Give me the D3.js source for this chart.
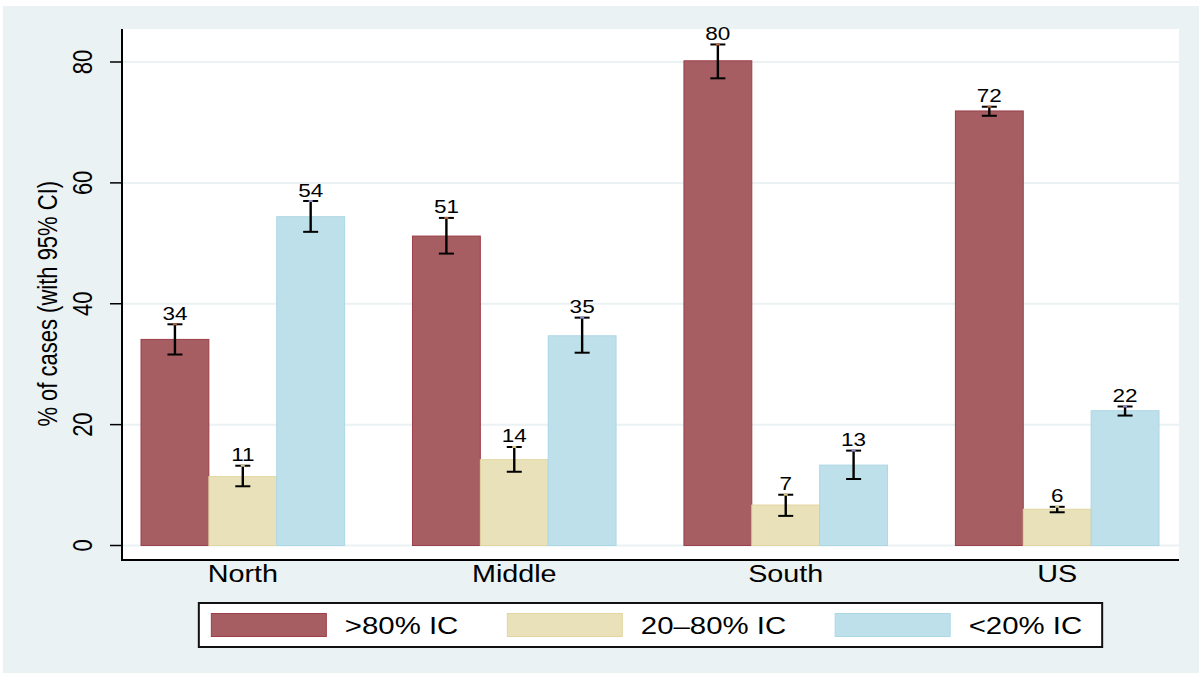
<!DOCTYPE html>
<html>
<head>
<meta charset="utf-8">
<script src="https://cdn.jsdelivr.net/npm/d3@7"></script>
<style>
  body { margin: 0; background: #ffffff; }
  text { font-family: "Liberation Sans", Arial, sans-serif; fill: #000; }
</style>
</head>
<body>
<div class="chart"></div>
<script>
//Data
const categories = ["North", "Middle", "South", "US"];
const seriesNames = [">80% IC", "20–80% IC", "<20% IC"];
const seriesColors = ["#a65e62", "#e9e1b9", "#bee0ea"];
const seriesStrokes = ["#9c3f49", "#e2d5a0", "#acd7e5"];
const capMarks = ["#b8643c", "#d9c98a", "#8f8fd0"];

const highMean = [34.1, 51.2, 80.2, 71.9];
const highLo = [31.6, 48.3, 77.3, 71.1];
const highHi = [36.6, 54.2, 82.9, 72.6];

const midMean = [11.4, 14.2, 6.7, 6.0];
const midLo = [9.8, 12.2, 4.9, 5.5];
const midHi = [13.2, 16.3, 8.4, 6.4];

const lowMean = [54.4, 34.7, 13.3, 22.3];
const lowLo = [51.9, 31.9, 11.0, 21.5];
const lowHi = [57.0, 37.7, 15.7, 23.0];

const yTicks = [0, 20, 40, 60, 80];

//Build rows
const means = [highMean, midMean, lowMean];
const los = [highLo, midLo, lowLo];
const his = [highHi, midHi, lowHi];
const rows = [];
categories.forEach((c, i) => {
    seriesNames.forEach((s, j) => {
        rows.push({ cat: c, series: s, idx: j, mean: means[j][i], lo: los[j][i], hi: his[j][i] });
    });
});

const width = 1199, height = 673;
const sx = 1.25; //picture is stretched sideways, text too
const plot = { left: 122, right: 1179, top: 29, bottom: 560 };

const svg = d3.select(".chart").append("svg")
    .attr("width", width)
    .attr("height", height);

//Outer background and plot region
svg.append("rect").attr("x", 3).attr("y", 6).attr("width", width - 3).attr("height", height - 6)
    .attr("fill", "#eaf2f3");
svg.append("rect").attr("x", plot.left).attr("y", plot.top)
    .attr("width", plot.right - plot.left).attr("height", plot.bottom - plot.top)
    .attr("fill", "#ffffff");

//Scales
const y = d3.scaleLinear().domain([0, 80]).range([545.5, 62]);
const x = d3.scaleBand().domain(categories).range([141, 1159]).paddingInner(0.25).paddingOuter(0);
const xs = d3.scaleBand().domain(seriesNames).range([0, x.bandwidth()]);

//Gridlines
svg.append("g").selectAll("line").data(yTicks).join("line")
    .attr("x1", plot.left).attr("x2", plot.right)
    .attr("y1", d => y(d)).attr("y2", d => y(d))
    .attr("stroke", "#eaf2f3").attr("stroke-width", 2);

//Bars
svg.append("g").selectAll("rect").data(rows).join("rect")
    .attr("x", d => x(d.cat) + xs(d.series))
    .attr("y", d => y(d.mean))
    .attr("width", xs.bandwidth())
    .attr("height", d => y(0) - y(d.mean))
    .attr("fill", d => seriesColors[d.idx])
    .attr("stroke", d => seriesStrokes[d.idx])
    .attr("stroke-width", 1);

//Error bars
const err = svg.append("g").selectAll("g").data(rows).join("g")
    .attr("transform", d => `translate(${x(d.cat) + xs(d.series) + xs.bandwidth() / 2},0)`);
err.append("line")
    .attr("y1", d => y(d.lo)).attr("y2", d => y(d.hi))
    .attr("stroke", "#000").attr("stroke-width", 2.4);
err.append("line")
    .attr("x1", -7.5).attr("x2", 7.5)
    .attr("y1", d => y(d.lo)).attr("y2", d => y(d.lo))
    .attr("stroke", "#000").attr("stroke-width", 2);
err.append("line")
    .attr("x1", -7.5).attr("x2", 7.5)
    .attr("y1", d => y(d.hi)).attr("y2", d => y(d.hi))
    .attr("stroke", "#000").attr("stroke-width", 2);
err.append("line")
    .attr("x1", -2).attr("x2", 2)
    .attr("y1", d => y(d.hi)).attr("y2", d => y(d.hi))
    .attr("stroke", d => capMarks[d.idx]).attr("stroke-width", 2);

//Value labels
err.append("text")
    .attr("transform", d => `translate(0,${y(d.hi) - 4.5}) scale(${sx},1)`)
    .attr("text-anchor", "middle")
    .style("font-size", "18px")
    .text(d => Math.round(d.mean));

//Axes lines
svg.append("line").attr("x1", plot.left).attr("x2", plot.left)
    .attr("y1", plot.top).attr("y2", plot.bottom + 1)
    .attr("stroke", "#000").attr("stroke-width", 2);
svg.append("line").attr("x1", plot.left - 1).attr("x2", plot.right)
    .attr("y1", plot.bottom).attr("y2", plot.bottom)
    .attr("stroke", "#000").attr("stroke-width", 2);

//Y ticks
const yt = svg.append("g").selectAll("g").data(yTicks).join("g");
yt.append("line")
    .attr("x1", 110).attr("x2", plot.left)
    .attr("y1", d => y(d)).attr("y2", d => y(d))
    .attr("stroke", "#000").attr("stroke-width", 1.5);
yt.append("text")
    .attr("transform", d => `translate(92,${y(d)}) scale(${sx},1) rotate(-90)`)
    .attr("text-anchor", "middle")
    .style("font-size", "22px")
    .text(d => d);

//Y title
svg.append("text")
    .attr("transform", `translate(57,${(y(0) + y(80)) / 2}) scale(${sx},1) rotate(-90)`)
    .attr("text-anchor", "middle")
    .style("font-size", "22px")
    .text("% of cases (with 95% CI)");

//Category labels
svg.append("g").selectAll("text").data(categories).join("text")
    .attr("transform", d => `translate(${x(d) + x.bandwidth() / 2},582) scale(${sx},1)`)
    .attr("text-anchor", "middle")
    .style("font-size", "23px")
    .text(d => d);

//Legend
const legend = svg.append("g");
const box = legend.append("rect")
    .attr("y", 603).attr("height", 44)
    .attr("fill", "#ffffff").attr("stroke", "#111").attr("stroke-width", 2);
const items = legend.selectAll("g").data(seriesNames).join("g");
items.append("rect")
    .attr("y", 613.5).attr("width", 115).attr("height", 23)
    .attr("fill", (d, i) => seriesColors[i])
    .attr("stroke", (d, i) => seriesStrokes[i]);
const labels = items.append("text")
    .style("font-size", "23.5px")
    .text(d => d);

//Lay out sequentially, centred on the plot
let widths = [];
labels.each(function () { widths.push(this.getComputedTextLength() * sx); });
const swW = 115, swGap = 18.5, itemGap = 49, padL = 12.5, padR = 20;
const total = d3.sum(widths) + seriesNames.length * (swW + swGap) + itemGap * (seriesNames.length - 1) + padL + padR;
const startX = (plot.left + plot.right) / 2 - total / 2;
box.attr("x", startX).attr("width", total);
let cx = startX + padL;
items.each(function (d, i) {
    const g = d3.select(this);
    g.select("rect").attr("x", cx);
    g.select("text").attr("transform", `translate(${cx + swW + swGap},633.5) scale(${sx},1)`);
    cx += swW + swGap + widths[i] + itemGap;
});
</script>
</body>
</html>
